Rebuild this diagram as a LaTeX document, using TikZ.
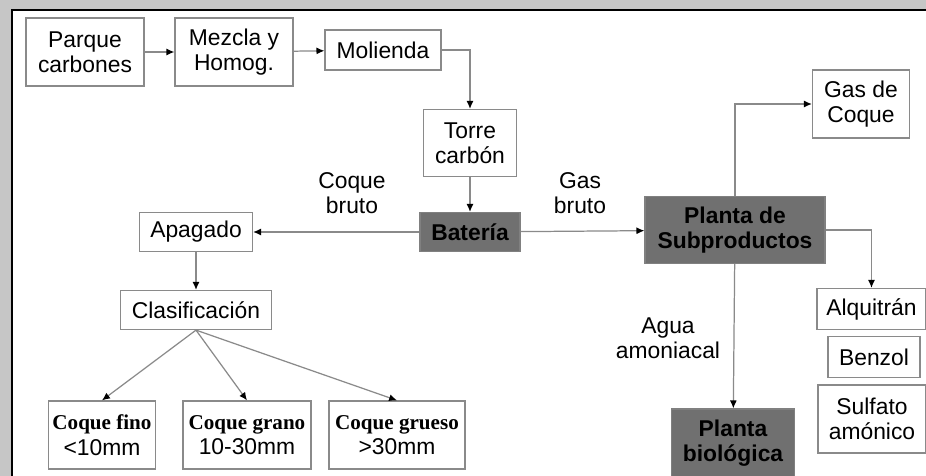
\documentclass[tikz,border=0pt]{standalone}
\usepackage{fontspec}
\setmainfont{Liberation Sans}
\newfontfamily\coquefont{Liberation Serif}
\usetikzlibrary{arrows.meta}

\definecolor{framegray}{HTML}{C6C6C6}
\definecolor{linegray}{HTML}{8A8A8A}
\definecolor{boxgray}{HTML}{707070}

\begin{document}
\begin{tikzpicture}[auto,scale=1.0]
	\tikzstyle{box}=[rectangle,draw=linegray,line width=0.7pt,align=center,inner sep=2pt,font=\fontsize{13}{14.5}\selectfont]
	\tikzstyle{darkbox}=[box,fill=boxgray,draw=gray,font=\fontsize{13}{14.5}\selectfont\bfseries]
	\tikzstyle{tag}=[align=center,font=\fontsize{13}{14.5}\selectfont]
	\tikzstyle{flow}=[draw=linegray,line width=0.7pt,-{Latex[length=4.5pt,width=4pt,color=black]}]
	\useasboundingbox (0,0) rectangle (18.52,9.52);
	% marco
	\fill [framegray] (0,0) rectangle (18.52,9.52);
	\fill [white] (0.24,0) rectangle (18.52,9.32);
	\draw [black,line width=1pt] (0.24,0) -- (0.24,9.32) -- (18.52,9.32);
	% carbon
	\node (parque)    at (1.70,8.48)  [box,minimum width=2.36cm,minimum height=1.36cm] {Parque\\carbones};
	\node (mezcla)    at (4.68,8.48)  [box,minimum width=2.36cm,minimum height=1.36cm] {Mezcla y\\Homog.};
	\node (molienda)  at (7.66,8.52)  [box,minimum width=2.32cm,minimum height=0.80cm] {Molienda};
	\node (torre)     at (9.40,6.66)  [box,minimum width=1.86cm,minimum height=1.34cm] {Torre\\carbón};
	\node (bateria)   at (9.40,4.88)  [darkbox,minimum width=2.00cm,minimum height=0.78cm] {Batería};
	% coque
	\node (apagado)   at (3.92,4.88)  [box,minimum width=2.26cm,minimum height=0.78cm] {Apagado};
	\node (clasif)    at (3.92,3.32)  [box,minimum width=3.02cm,minimum height=0.78cm] {Clasificación};
	\node (fino)      at (2.04,0.82)  [box,minimum width=2.14cm,minimum height=1.36cm] {{\coquefont\bfseries\fontsize{12}{14.5}\selectfont Coque fino}\\<10mm};
	\node (grano)     at (4.94,0.82)  [box,minimum width=2.56cm,minimum height=1.36cm] {{\coquefont\bfseries\fontsize{12}{14.5}\selectfont Coque grano}\\10-30mm};
	\node (grueso)    at (7.94,0.82)  [box,minimum width=2.72cm,minimum height=1.36cm] {{\coquefont\bfseries\fontsize{12}{14.5}\selectfont Coque grueso}\\>30mm};
	% gas
	\node (subprod)   at (14.70,4.92) [darkbox,minimum width=3.60cm,minimum height=1.34cm] {Planta de\\Subproductos};
	\node (gascoque)  at (17.22,7.44) [box,minimum width=1.94cm,minimum height=1.36cm] {Gas de\\Coque};
	\node (alquitran) at (17.43,3.34) [box,minimum width=2.18cm,minimum height=0.82cm] {Alquitrán};
	\node (benzol)    at (17.48,2.38) [box,minimum width=1.84cm,minimum height=0.82cm] {Benzol};
	\node (sulfato)   at (17.44,1.14) [box,minimum width=2.16cm,minimum height=1.36cm] {Sulfato\\amónico};
	\node (biologica) at (14.66,0.66) [darkbox,minimum width=2.46cm,minimum height=1.36cm] {Planta\\biológica};
	% etiquetas
	\node (coquebruto) at (7.04,5.66)  [tag] {Coque\\bruto};
	\node (gasbruto)   at (11.60,5.66) [tag] {Gas\\bruto};
	\node (agua)       at (13.36,2.76) [tag] {Agua\\amoniacal};
	% flechas
	\draw [flow] (parque) -- (mezcla);
	\draw [flow] (mezcla) -- (molienda);
	\draw [flow] (molienda.east) -| (torre.north);
	\draw [flow] (torre) -- (bateria);
	\draw [flow] (bateria) -- (apagado);
	\draw [flow] (bateria) -- (subprod);
	\draw [flow] (apagado) -- (clasif);
	\draw [flow] (clasif.south) -- (fino.north);
	\draw [flow] (clasif.south) -- (grano.north);
	\draw [flow] (clasif.south) -- (grueso.north);
	\draw [flow] (subprod.north) |- (gascoque.west);
	\draw [flow] (subprod.east) -| (alquitran.north);
	\draw [flow] (subprod) -- (biologica);
\end{tikzpicture}
\end{document}
